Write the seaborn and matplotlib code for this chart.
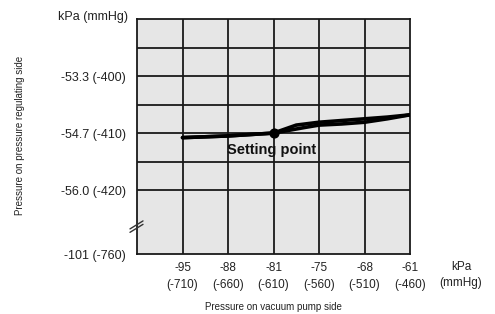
import numpy as np
import pandas as pd
import matplotlib
matplotlib.use("Agg")
import matplotlib.pyplot as plt
import seaborn as sns

# x: vacuum pump side (mmHg), y: regulated side (mmHg)
x_kpa = ["-95", "-88", "-81", "-75", "-68", "-61"]
x_mmhg = [-710, -660, -610, -560, -510, -460]
y_tick_pos = [-420, -410, -400]
y_tick_labels = ["-56.0 (-420)", "-54.7 (-410)", "-53.3 (-400)"]
y_break_label = "-101 (-760)"

rise_x = [-710, -660, -610, -585, -560, -535, -510, -485, -460]
rise_y = [-410.8, -410.5, -410.0, -408.6, -408.1, -407.8, -407.5, -407.2, -406.8]
fall_x = [-710, -660, -610, -575, -560, -535, -510, -485, -460]
fall_y = [-410.8, -410.5, -410.0, -409.0, -408.6, -408.4, -408.1, -407.5, -406.8]
setting_x = [-610]
setting_y = [-410.0]

df = pd.concat([
    pd.DataFrame({"x": rise_x, "y": rise_y, "branch": "rise"}),
    pd.DataFrame({"x": fall_x, "y": fall_y, "branch": "fall"}),
])

sns.set_theme(style="white")
plt.rcParams["font.family"] = ["Liberation Sans", "DejaVu Sans"]

fig = plt.figure(figsize=(4.95, 3.14), dpi=100)
ax = fig.add_axes([137/495, 1-254/314, 273/495, 235/314])
ax.set_facecolor("#e6e6e6")

sns.lineplot(data=df, x="x", y="y", units="branch", estimator=None, color="black",
             lw=2.6, ax=ax, legend=False, sort=False, zorder=3)
ax.scatter(setting_x, setting_y, s=40, color="black", zorder=4)
ax.text(-612, -412.9, "Setting point", ha="center", va="center", fontsize=10.5,
        fontweight="bold", color="#111111")

y_bottom = -431.2
ax.set_xlim(-760, -460)
ax.set_ylim(y_bottom, -390)

ax.set_xticks(x_mmhg)
ax.set_xticklabels([f"{k}\n({m})" for k, m in zip(x_kpa, x_mmhg)], fontsize=8.5,
                   linespacing=1.5, color="#222222")
ax.set_yticks([y_bottom] + y_tick_pos)
ax.set_yticklabels([y_break_label] + y_tick_labels, fontsize=9, color="#222222")
ax.tick_params(axis="both", which="both", length=0)
ax.tick_params(axis="x", pad=6)
ax.tick_params(axis="y", pad=8)

for xv in x_mmhg[:-1]:
    ax.axvline(xv, color="#1a1a1a", lw=1.3, zorder=1)
for yv in [-420, -415, -410, -405, -400, -395]:
    ax.axhline(yv, color="#1a1a1a", lw=1.3, zorder=1)
for s in ax.spines.values():
    s.set_color("#1a1a1a")
    s.set_linewidth(1.3)

# axis break mark
ax.plot([-767.7, -753.4], [-426.8, -425.4], color="#333333", lw=1, clip_on=False, zorder=5)
ax.plot([-767.7, -753.4], [-427.4, -426.0], color="#333333", lw=1, clip_on=False, zorder=5)

ax.set_xlabel("")
ax.set_ylabel("")
fig.text(128/495, 1-17/314, "kPa (mmHg)", ha="right", va="center", fontsize=9,
         color="#222222")
fig.text(461/495, 1-275/314, "kPa\n(mmHg)", ha="center", va="center", fontsize=8.5,
         linespacing=1.5, color="#222222")
fig.text(273/495, 1-307/314, "Pressure on vacuum pump side", ha="center", va="center",
         fontsize=7, color="#222222")
fig.text(20/495, 1-135/314, "Pressure on pressure regulating side", ha="center",
         va="center", rotation=90, fontsize=7, color="#222222")

fig.savefig("out.png", dpi=100)
